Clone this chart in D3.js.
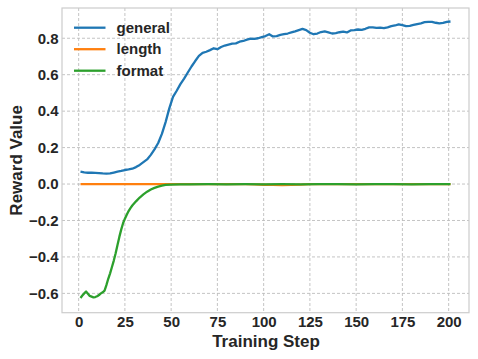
<!DOCTYPE html>
<html><head><meta charset="utf-8">
<script src="https://cdn.jsdelivr.net/npm/d3@7"></script>
<style>body{margin:0;background:#fff}svg{display:block}text{font-family:"Liberation Sans",Arial,sans-serif;font-weight:bold;fill:#262626}</style>
</head><body><svg id="c" width="478" height="359"></svg>
<script>
const seriesNames = ["general", "length", "format"];
const seriesColors = ["#1f77b4", "#ff7f0e", "#2ca02c"];
const xTicks = [0, 25, 50, 75, 100, 125, 150, 175, 200];
const yTicks = [-0.6, -0.4, -0.2, 0.0, 0.2, 0.4, 0.6, 0.8];

const generalSteps = [1,3,5,7,9,11,13,15,17,19,21,23,25,27,29,31,33,35,37,39,41,43,45,47,49,51,53,55,57,59,61,63,65,67,69,71,73,75,77,79,81,83,85,87,89,91,93,95,97,99,101,103,105,107,109,111,113,115,117,119,121,123,125,127,129,131,133,135,137,139,141,143,145,147,149,151,153,155,157,159,161,163,165,167,169,171,173,175,177,179,181,183,185,187,189,191,193,195,197,199,201];
const generalValues = [0.068,0.064,0.062,0.062,0.061,0.060,0.058,0.057,0.058,0.063,0.068,0.072,0.077,0.080,0.084,0.093,0.105,0.120,0.135,0.160,0.190,0.225,0.275,0.340,0.415,0.478,0.512,0.548,0.578,0.612,0.645,0.675,0.703,0.720,0.726,0.735,0.745,0.740,0.752,0.760,0.765,0.770,0.772,0.781,0.785,0.792,0.798,0.797,0.800,0.806,0.812,0.822,0.810,0.812,0.818,0.822,0.826,0.832,0.838,0.845,0.851,0.845,0.830,0.822,0.826,0.834,0.838,0.832,0.826,0.828,0.833,0.836,0.832,0.843,0.845,0.848,0.846,0.852,0.860,0.860,0.857,0.858,0.856,0.860,0.866,0.870,0.876,0.872,0.866,0.868,0.873,0.878,0.882,0.888,0.890,0.890,0.885,0.882,0.884,0.890,0.892];

const lengthSteps = [1,50,90,95,100,105,110,115,120,125,130,201];
const lengthValues = [0.0,0.0,0.0,-0.002,-0.004,-0.005,-0.006,-0.005,-0.003,-0.001,0.0,0.0];

const formatSteps = [1,2,3,4,5,6,7,8,9,10,11,12,13,14,15,16,17,18,19,20,21,22,23,24,25,26,27,28,29,31,33,35,37,39,41,43,45,47,50,55,60,70,80,90,100,110,120,130,140,150,160,170,180,190,201];
const formatValues = [-0.625,-0.612,-0.600,-0.590,-0.602,-0.614,-0.618,-0.622,-0.620,-0.616,-0.609,-0.600,-0.594,-0.585,-0.555,-0.520,-0.490,-0.455,-0.420,-0.380,-0.335,-0.290,-0.250,-0.215,-0.190,-0.168,-0.148,-0.132,-0.118,-0.095,-0.074,-0.057,-0.042,-0.030,-0.021,-0.014,-0.009,-0.005,-0.003,-0.002,-0.002,-0.001,-0.002,-0.001,-0.002,-0.001,-0.002,-0.001,-0.001,-0.002,-0.001,-0.001,-0.002,-0.001,-0.001];

const svg = d3.select("#c");
const L = 62, R = 469, T = 8, B = 312.7;
const x = d3.scaleLinear().domain([-9, 211]).range([L, R]);
const y = d3.scaleLinear().domain([-0.706, 0.966]).range([B, T]);

// grid
const g = svg.append("g");
g.selectAll(".gx").data(xTicks).join("line")
  .attr("x1", d => x(d)).attr("x2", d => x(d)).attr("y1", T).attr("y2", B)
  .attr("stroke", "#bdbdbd").attr("stroke-width", 0.9).attr("stroke-dasharray", "3,2");
g.selectAll(".gy").data(yTicks).join("line")
  .attr("y1", d => y(d)).attr("y2", d => y(d)).attr("x1", L).attr("x2", R)
  .attr("stroke", "#bdbdbd").attr("stroke-width", 0.9).attr("stroke-dasharray", "3,2");

// axes via d3 axis (no tick lines)
const fmt = d => (d < 0 ? "\u2212" : "") + Math.abs(d).toFixed(1);
const xa = svg.append("g").attr("transform", `translate(0,${B})`)
  .call(d3.axisBottom(x).tickValues(xTicks).tickSize(0).tickPadding(3.5));
const ya = svg.append("g").attr("transform", `translate(${L},0)`)
  .call(d3.axisLeft(y).tickValues(yTicks).tickSize(0).tickPadding(3.5).tickFormat(fmt));
[xa, ya].forEach(a => {
  a.select(".domain").remove();
  a.selectAll("text").attr("font-size", 15).attr("font-family", "Liberation Sans, Arial, sans-serif")
    .attr("font-weight", "bold").attr("fill", "#262626");
});

// frame
svg.append("rect").attr("x", L).attr("y", T).attr("width", R - L).attr("height", B - T)
  .attr("fill", "none").attr("stroke", "#cccccc").attr("stroke-width", 1.2);

// lines
const line = d3.line().x(d => x(d[0])).y(d => y(d[1]));
const data = [
  d3.zip(generalSteps, generalValues),
  d3.zip(lengthSteps, lengthValues),
  d3.zip(formatSteps, formatValues)
];
[0, 1, 2].forEach(i => {
  svg.append("path").datum(data[i]).attr("d", line).attr("fill", "none")
    .attr("stroke", seriesColors[i]).attr("stroke-width", 2.3)
    .attr("stroke-linejoin", "round").attr("stroke-linecap", "butt");
});

// legend
const lg = svg.append("g");
seriesNames.forEach((n, i) => {
  const yy = 27.7 + i * 21.5;
  lg.append("line").attr("x1", 74).attr("x2", 105.5).attr("y1", yy).attr("y2", yy)
    .attr("stroke", seriesColors[i]).attr("stroke-width", 2.3);
  lg.append("text").attr("x", 116.5).attr("y", yy).attr("dy", "0.35em")
    .attr("font-size", 15).text(n);
});

// axis titles
svg.append("text").attr("x", (L + R) / 2 + 0.5).attr("y", 346.5).attr("text-anchor", "middle")
  .attr("font-size", 17).text("Training Step");
svg.append("text").attr("transform", `translate(22,${(T + B) / 2}) rotate(-90)`)
  .attr("text-anchor", "middle").attr("font-size", 17).text("Reward Value");
</script></body></html>
